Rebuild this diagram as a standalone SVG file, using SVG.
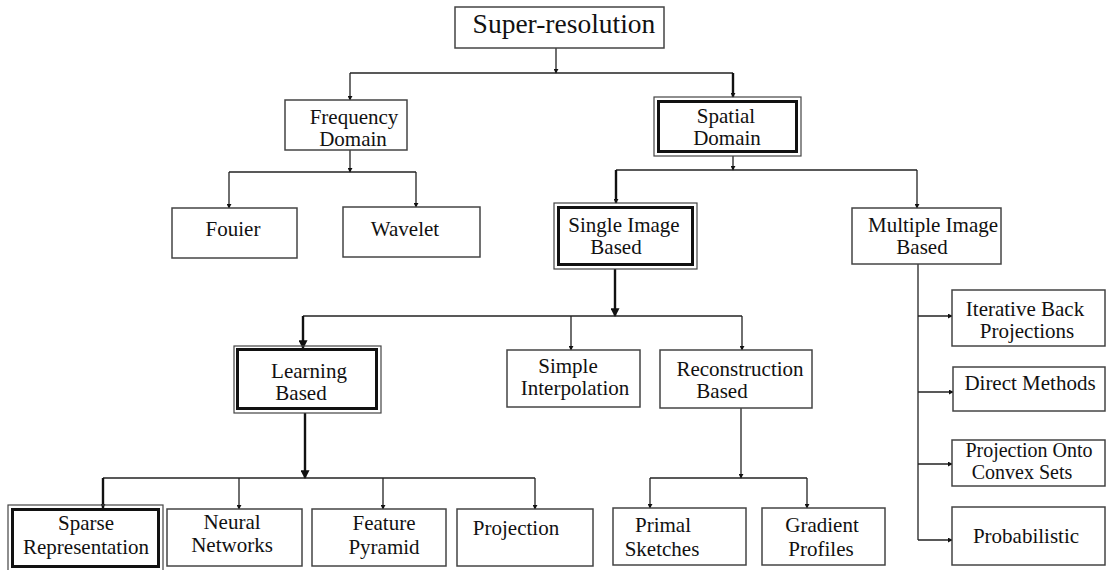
<svg xmlns="http://www.w3.org/2000/svg" width="1107" height="570" viewBox="0 0 1107 570">
<defs>
<style>
.box{fill:#fff;stroke:#444;stroke-width:1.5}
.thin{fill:none;stroke:#444;stroke-width:1.2}
.thick{fill:none;stroke:#111;stroke-width:3}
text{font-family:'Liberation Serif','DejaVu Serif','Times New Roman',serif;font-size:21px;fill:#111;text-anchor:middle}
.big{font-size:27.5px}
.sm{font-size:20px}
.c{fill:none;stroke:#222;stroke-width:1.3}
.cb{fill:none;stroke:#111;stroke-width:2.4}
</style>
<marker id="a" viewBox="0 0 6 6" refX="5" refY="3" markerWidth="5" markerHeight="5" orient="auto" markerUnits="userSpaceOnUse"><path d="M0,0 L6,3 L0,6 z" fill="#111"/></marker>
<marker id="ab" viewBox="0 0 8 8" refX="7" refY="4" markerWidth="9" markerHeight="9" orient="auto" markerUnits="userSpaceOnUse"><path d="M0,0 L8,4 L0,8 z" fill="#111"/></marker>
</defs>
<rect width="1107" height="570" fill="#fff"/>
<g id="connectors">
<path class="c" d="M556,48 V73" marker-end="url(#a)"/>
<path class="c" d="M350,73 H733"/>
<path class="c" d="M350,73 V100" marker-end="url(#a)"/>
<path class="cb" d="M733,73 V97" marker-end="url(#a)"/>
<path class="c" d="M350,150 V172" marker-end="url(#a)"/>
<path class="c" d="M229,172 H416"/>
<path class="c" d="M229,172 V208" marker-end="url(#a)"/>
<path class="c" d="M416,172 V207" marker-end="url(#a)"/>
<path class="c" d="M733,156 V170" marker-end="url(#a)"/>
<path class="c" d="M616,170 H917"/>
<path class="cb" d="M616,170 V203" marker-end="url(#a)"/>
<path class="c" d="M917,170 V208" marker-end="url(#a)"/>
<path class="cb" d="M615,269 V316" marker-end="url(#ab)"/>
<path class="c" d="M303,316 H742"/>
<path class="cb" d="M303,316 V348" marker-end="url(#ab)"/>
<path class="c" d="M571,316 V350" marker-end="url(#a)"/>
<path class="c" d="M742,316 V350" marker-end="url(#a)"/>
<path class="cb" d="M305,413 V478" marker-end="url(#ab)"/>
<path class="c" d="M103,478 H535"/>
<path class="cb" d="M103,478 V508" marker-end="url(#a)"/>
<path class="c" d="M239,478 V509" marker-end="url(#a)"/>
<path class="c" d="M383,478 V509" marker-end="url(#a)"/>
<path class="c" d="M535,478 V509" marker-end="url(#a)"/>
<path class="c" d="M741,408 V478" marker-end="url(#a)"/>
<path class="c" d="M650,478 H807"/>
<path class="c" d="M650,478 V508" marker-end="url(#a)"/>
<path class="c" d="M807,478 V508" marker-end="url(#a)"/>
<path class="c" d="M918,264 V540"/>
<path class="c" d="M918,316 H952" marker-end="url(#a)"/>
<path class="c" d="M918,392 H953" marker-end="url(#a)"/>
<path class="c" d="M918,464 H952" marker-end="url(#a)"/>
<path class="c" d="M918,540 H952" marker-end="url(#a)"/>
</g>
<g id="super-resolution"><rect class="box" x="455" y="7" width="209" height="41"/><text class="big" x="564" y="33">Super-resolution</text></g>
<g id="frequency-domain"><rect class="box" x="285" y="100" width="122" height="50"/><text x="354" y="124">Frequency</text><text x="353" y="146">Domain</text></g>
<g id="spatial-domain"><rect class="thin" x="654" y="97" width="147" height="59"/><rect class="thick" x="658.5" y="101.5" width="138" height="50"/><text x="726" y="123">Spatial</text><text x="727" y="145">Domain</text></g>
<g id="fouier"><rect class="box" x="172" y="208" width="125" height="50"/><text x="233" y="236">Fouier</text></g>
<g id="wavelet"><rect class="box" x="343" y="207" width="137" height="50"/><text x="405" y="236">Wavelet</text></g>
<g id="single-image"><rect class="thin" x="554" y="203" width="143" height="66"/><rect class="thick" x="558.5" y="207.5" width="134" height="57"/><text x="624" y="232">Single Image</text><text x="616" y="254">Based</text></g>
<g id="multiple-image"><rect class="box" x="852" y="208" width="149" height="56"/><text x="933" y="232">Multiple Image</text><text x="922" y="254">Based</text></g>
<g id="learning-based"><rect class="thin" x="234" y="346" width="147" height="67"/><rect class="thick" x="237.5" y="349.5" width="139" height="59"/><text x="309" y="378">Learning</text><text x="301" y="400">Based</text></g>
<g id="simple-interpolation"><rect class="box" x="507" y="350" width="133" height="57"/><text x="568" y="373">Simple</text><text x="575" y="395">Interpolation</text></g>
<g id="reconstruction-based"><rect class="box" x="660" y="350" width="152" height="58"/><text x="740" y="376">Reconstruction</text><text x="722" y="398">Based</text></g>
<g id="sparse-representation"><rect class="thin" x="8" y="505" width="155" height="66"/><rect class="thick" x="12.5" y="509.5" width="146" height="57"/><text x="86" y="530">Sparse</text><text x="86" y="554">Representation</text></g>
<g id="neural-networks"><rect class="box" x="167" y="509" width="135" height="57"/><text x="232" y="529">Neural</text><text x="232" y="552">Networks</text></g>
<g id="feature-pyramid"><rect class="box" x="312" y="509" width="134" height="57"/><text x="384" y="530">Feature</text><text x="384" y="554">Pyramid</text></g>
<g id="projection"><rect class="box" x="457" y="509" width="136" height="57"/><text x="516" y="535">Projection</text></g>
<g id="primal-sketches"><rect class="box" x="613" y="508" width="133" height="57"/><text x="663" y="532">Primal</text><text x="662" y="556">Sketches</text></g>
<g id="gradient-profiles"><rect class="box" x="762" y="508" width="123" height="57"/><text x="822" y="532">Gradient</text><text x="821" y="556">Profiles</text></g>
<g id="iterative-back"><rect class="box" x="952" y="290" width="153" height="56"/><text x="1025" y="316">Iterative Back</text><text x="1027" y="338">Projections</text></g>
<g id="direct-methods"><rect class="box" x="953" y="367" width="152" height="44"/><text x="1030" y="390">Direct Methods</text></g>
<g id="pocs"><rect class="box" x="952" y="440" width="153" height="46"/><text class="sm" x="1029" y="457">Projection Onto</text><text class="sm" x="1022" y="479">Convex Sets</text></g>
<g id="probabilistic"><rect class="box" x="952" y="507" width="153" height="58"/><text x="1026" y="543">Probabilistic</text></g>
</svg>
